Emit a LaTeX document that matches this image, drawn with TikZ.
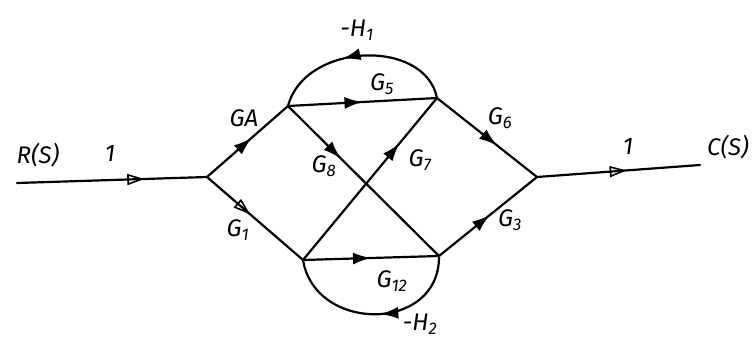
\documentclass[tikz,border=0pt]{standalone}
\usepackage{fontspec}
\setmainfont{Fira Sans}
\usetikzlibrary{arrows.meta,decorations.markings}
\tikzset{
  br/.style={line width=2.2pt, line cap=round},
  fmark/.style={postaction=decorate, decoration={markings, mark=at position #1 with {\arrow{Latex[length=18pt,width=12pt]}}}},
  omark/.style={postaction=decorate, decoration={markings, mark=at position #1 with {\arrow[line width=1.6pt]{Triangle[open,length=17pt,width=11pt]}}}},
  lbl/.style={font=\fontsize{24}{24}\selectfont\itshape, inner sep=0pt}
}
\begin{document}
\begin{tikzpicture}[x=1pt,y=-1pt]
\useasboundingbox (0,0) rectangle (752,343);
\coordinate (R) at (17,183);
\coordinate (A) at (207,177);
\coordinate (B) at (288,106);
\coordinate (C) at (437,98);
\coordinate (D) at (303,260);
\coordinate (E) at (439,256);
\coordinate (F) at (537,177);
\coordinate (Cs) at (700,165);

\draw[br, omark=0.67] (R) -- (A);
\draw[br, fmark=0.55] (A) -- (B);
\draw[br, omark=0.45] (A) -- (D);
\draw[br, fmark=0.5] (B) -- (C);
\draw[br, fmark=0.35] (B) -- (E);
\draw[br, fmark=0.72] (D) -- (C);
\draw[br, fmark=0.5] (D) -- (E);
\draw[br, fmark=0.6] (C) -- (F);
\draw[br, fmark=0.52] (E) -- (F);
\draw[br, omark=0.55] (F) -- (Cs);
\draw[br, fmark=0.6] (C) .. controls (425,38) and (305,42) .. (B);
\draw[br, fmark=0.47] (E) .. controls (440,333) and (315,333) .. (D);

\node[lbl] (lR) at (38,155) {R(S)};
\node[lbl] (l1a) at (110,153) {1};
\node[lbl] (lGA) at (244,118) {GA};
\node[lbl] (lG1) at (238,230) {G\textsubscript{1}};
\node[lbl] (lG5) at (382,84) {G\textsubscript{5}};
\node[lbl] (lH1) at (357,30) {-H\textsubscript{1}};
\node[lbl] (lG8) at (324,166) {G\textsubscript{8}};
\node[lbl] (lG7) at (420,160) {G\textsubscript{7}};
\node[lbl] (lG12) at (392,281) {G\textsubscript{12}};
\node[lbl] (lH2) at (420,324) {-H\textsubscript{2}};
\node[lbl] (lG6) at (500,118) {G\textsubscript{6}};
\node[lbl] (lG3) at (510,220) {G\textsubscript{3}};
\node[lbl] (l1b) at (628,146) {1};
\node[lbl] (lC) at (728,147) {C(S)};
\end{tikzpicture}
\end{document}
